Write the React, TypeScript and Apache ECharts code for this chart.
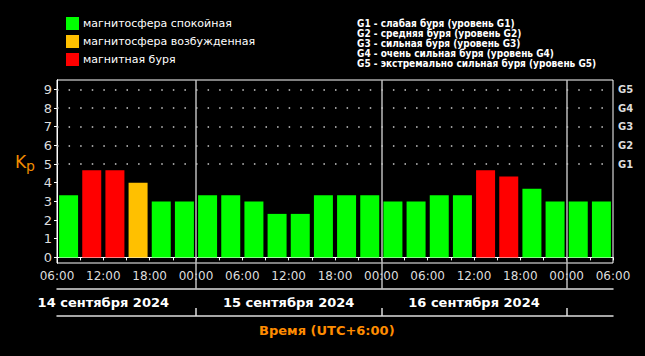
import React, { useEffect, useRef } from "react";
import * as echarts from "echarts";

const categories = [
  "14.09 06:00", "14.09 09:00", "14.09 12:00", "14.09 15:00", "14.09 18:00", "14.09 21:00",
  "15.09 00:00", "15.09 03:00", "15.09 06:00", "15.09 09:00", "15.09 12:00", "15.09 15:00", "15.09 18:00", "15.09 21:00",
  "16.09 00:00", "16.09 03:00", "16.09 06:00", "16.09 09:00", "16.09 12:00", "16.09 15:00", "16.09 18:00", "16.09 21:00",
  "17.09 00:00", "17.09 03:00",
];
const kpValues = [
  3.33, 4.67, 4.67, 4.0, 3.0, 3.0,
  3.33, 3.33, 3.0, 2.33, 2.33, 3.33, 3.33, 3.33,
  3.0, 3.0, 3.33, 3.33, 4.67, 4.33, 3.67, 3.0,
  3.0, 3.0,
];
// 0 = quiet, 1 = active, 2 = storm
const levels = [
  0, 2, 2, 1, 0, 0,
  0, 0, 0, 0, 0, 0, 0, 0,
  0, 0, 0, 0, 2, 2, 0, 0,
  0, 0,
];
const levelNames = ["магнитосфера спокойная", "магнитосфера возбужденная", "магнитная буря"];
const levelColors = ["#00ff00", "#ffc000", "#ff0000"];
const hourLabels = ["06:00", "12:00", "18:00", "00:00", "06:00", "12:00", "18:00", "00:00", "06:00", "12:00", "18:00", "00:00", "06:00"];
const dayLabels = ["14 сентября 2024", "15 сентября 2024", "16 сентября 2024"];
const kpTicks = [0, 1, 2, 3, 4, 5, 6, 7, 8, 9];
const gLevels = [5, 6, 7, 8, 9];
const gLabels = ["G1", "G2", "G3", "G4", "G5"];
const gDescriptions = [
  "G1 - слабая буря (уровень G1)",
  "G2 - средняя буря (уровень G2)",
  "G3 - сильная буря (уровень G3)",
  "G4 - очень сильная буря (уровень G4)",
  "G5 - экстремально сильная буря (уровень G5)",
];
const xTitle = "Время (UTC+6:00)";
const HOURS_PER_SLOT = 3;

const FONT = "DejaVu Sans";

export default function App() {
  const ref = useRef<HTMLDivElement>(null);
  useEffect(() => {
    if (!ref.current) return;
    const chart = echarts.init(ref.current, null, { renderer: "svg" });
    const totalHours = categories.length * HOURS_PER_SLOT;
    const boundaries = categories
      .map((c, i) => (c.endsWith("00:00") ? i * HOURS_PER_SLOT : -1))
      .filter((v) => v >= 0);
    const dayCenters = boundaries.slice(0, dayLabels.length).map((b) => b - 12);
    const hourValues = hourLabels.map((_, i) => i * 6);
    const tickValues = Array.from({ length: categories.length + 1 }, (_, i) => i * HOURS_PER_SLOT);

    const gridLeft = 57;
    const gridWidth = 556;
    const dotPeriod = gridWidth / 48;

    const barSeries = levelNames.map((name, li) => ({
      name,
      type: "bar",
      stack: "kp",
      xAxisIndex: 0,
      yAxisIndex: 0,
      barCategoryGap: "18%",
      itemStyle: { color: levelColors[li] },
      data: kpValues.map((v, i) => (levels[i] === li ? v : "-")),
      markLine:
        li === 0
          ? {
              silent: true,
              symbol: ["none", "none"],
              label: { show: false },
              lineStyle: { color: "#cccccc", width: 1.5, type: [1.5, dotPeriod - 1.5] },
              data: gLevels.map((g) => ({ yAxis: g })),
            }
          : undefined,
    }));

    const option: any = {
      animation: false,
      backgroundColor: "#000000",
      textStyle: { fontFamily: FONT },
      legend: {
        orient: "vertical",
        left: 66,
        top: 17,
        padding: 0,
        itemWidth: 13,
        itemHeight: 13,
        itemGap: 5,
        icon: "rect",
        selectedMode: false,
        data: levelNames,
        textStyle: { color: "#ffffff", fontSize: 11, fontFamily: FONT, padding: [0, 0, 0, -1] },
      },
      title: {
        text: xTitle,
        left: 259,
        top: 324,
        padding: 0,
        textStyle: { color: "#ff8c00", fontSize: 13, fontWeight: "bold", fontFamily: FONT },
      },
      grid: {
        left: gridLeft,
        top: 80,
        width: gridWidth,
        height: 183,
        show: true,
        borderColor: "#ffffff",
        borderWidth: 1,
        backgroundColor: "transparent",
      },
      xAxis: [
        {
          type: "category",
          data: categories,
          show: false,
        },
        {
          type: "value",
          min: 0,
          max: totalHours,
          position: "bottom",
          axisLine: { show: true, lineStyle: { color: "#ffffff", width: 1 } },
          axisTick: { show: true, length: 3, customValues: tickValues, lineStyle: { color: "#ffffff" } },
          axisLabel: {
            show: true,
            customValues: hourValues,
            formatter: (v: number) => hourLabels[Math.round(v / 6)],
            color: "#dddddd",
            fontSize: 12,
            fontFamily: FONT,
            margin: 7,
          },
          splitLine: { show: false },
        },
        {
          type: "value",
          min: 0,
          max: totalHours,
          position: "bottom",
          axisLine: { show: false },
          axisTick: { show: true, length: 26, customValues: boundaries, lineStyle: { color: "#bbbbbb", width: 1.5 } },
          axisLabel: { show: false },
          splitLine: { show: false },
        },
        {
          type: "value",
          min: 0,
          max: totalHours,
          position: "bottom",
          offset: 26,
          axisLine: { show: true, lineStyle: { color: "#dddddd", width: 1.5 } },
          axisTick: { show: false },
          axisLabel: {
            show: true,
            customValues: dayCenters,
            formatter: (v: number) => dayLabels[dayCenters.indexOf(v)] ?? "",
            color: "#ffffff",
            fontSize: 13,
            fontWeight: "bold",
            fontFamily: FONT,
            margin: 7,
          },
          splitLine: { show: false },
        },
        {
          type: "value",
          min: 0,
          max: totalHours,
          position: "bottom",
          offset: 53,
          axisLine: { show: true, lineStyle: { color: "#dddddd", width: 1.5 } },
          axisTick: { show: true, inside: true, length: 8, customValues: boundaries, lineStyle: { color: "#dddddd", width: 1.5 } },
          axisLabel: { show: false },
          splitLine: { show: false },
        },
      ],
      yAxis: [
        {
          type: "value",
          min: -0.3,
          max: 9.5,
          position: "left",
          axisLine: { show: true, lineStyle: { color: "#ffffff" } },
          axisTick: { show: false },
          axisLabel: {
            customValues: kpTicks,
            color: "#dddddd",
            fontSize: 13,
            fontFamily: FONT,
            margin: 5,
          },
          splitLine: { show: false },
        },
        {
          type: "value",
          min: -0.3,
          max: 9.5,
          position: "right",
          axisLine: { show: true, lineStyle: { color: "#ffffff" } },
          axisTick: { show: true, inside: true, length: 3, customValues: kpTicks, lineStyle: { color: "#ffffff" } },
          axisLabel: {
            customValues: gLevels,
            formatter: (v: number) => gLabels[gLevels.indexOf(v)] ?? "",
            color: "#dddddd",
            fontSize: 10,
            fontWeight: "bold",
            fontFamily: FONT,
            margin: 5,
          },
          splitLine: { show: false },
        },
      ],
      graphic: [
        {
          type: "text",
          left: 15,
          top: 153,
          style: { text: "K", fill: "#f08c00", fontSize: 17, fontFamily: FONT },
        },
        {
          type: "text",
          left: 26,
          top: 159,
          style: { text: "p", fill: "#f08c00", fontSize: 14, fontFamily: FONT },
        },
        {
          type: "text",
          left: 357,
          top: 18,
          style: {
            text: gDescriptions.join("\n"),
            fill: "#ffffff",
            fontSize: 10,
            fontWeight: "bold",
            fontFamily: "DejaVu Sans Condensed",
            lineHeight: 10,
          },
        },
      ],
      series: [
        ...barSeries,
        {
          name: "separators",
          type: "line",
          xAxisIndex: 1,
          yAxisIndex: 0,
          data: [],
          markLine: {
            silent: true,
            symbol: ["none", "none"],
            label: { show: false },
            lineStyle: { color: "#bbbbbb", width: 1.5, type: "solid" },
            data: boundaries.map((b) => ({ xAxis: b })),
          },
        },
      ],
    };
    chart.setOption(option);
    return () => chart.dispose();
  }, []);
  return (
    <div
      ref={ref}
      style={{ position: "absolute", left: 0, top: 0, width: 645, height: 356, background: "#000" }}
    />
  );
}
